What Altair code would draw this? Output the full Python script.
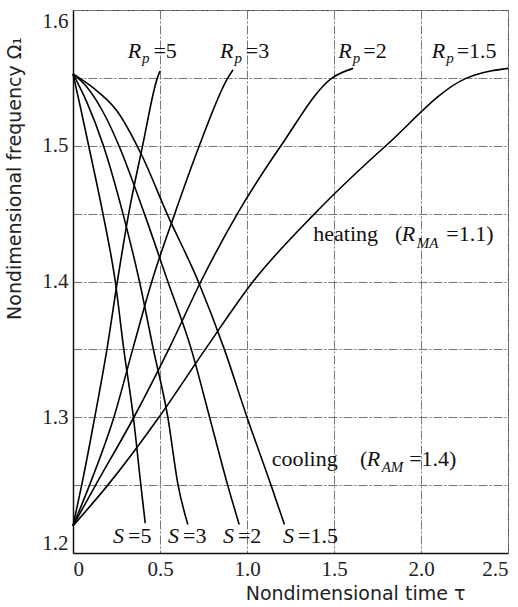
import altair as alt
import pandas as pd

# ---- curve data (tau, Omega_1) ----
rp5_t = [0, 0.05, 0.125, 0.195, 0.255, 0.32, 0.40, 0.485, 0.50]
rp5_w = [1.22, 1.25, 1.30, 1.35, 1.40, 1.45, 1.50, 1.55, 1.555]
rp3_t = [0, 0.095, 0.235, 0.343, 0.453, 0.585, 0.726, 0.89, 0.92]
rp3_w = [1.22, 1.25, 1.30, 1.35, 1.40, 1.45, 1.50, 1.55, 1.556]
rp2_t = [0, 0.13, 0.35, 0.55, 0.735, 0.945, 1.195, 1.49, 1.61]
rp2_w = [1.22, 1.25, 1.30, 1.35, 1.40, 1.45, 1.50, 1.55, 1.557]
rp15_t = [0, 0.20, 0.494, 0.76, 1.035, 1.389, 1.798, 2.265, 2.40, 2.50]
rp15_w = [1.22, 1.25, 1.30, 1.35, 1.40, 1.45, 1.50, 1.55, 1.555, 1.557]

s5_t = [0, 0.045, 0.09, 0.172, 0.243, 0.292, 0.347, 0.39, 0.415]
s5_w = [1.553, 1.527, 1.50, 1.45, 1.40, 1.35, 1.30, 1.25, 1.222]
s3_t = [0, 0.08, 0.175, 0.287, 0.382, 0.462, 0.545, 0.604, 0.66]
s3_w = [1.553, 1.532, 1.50, 1.45, 1.40, 1.35, 1.30, 1.25, 1.221]
s2_t = [0, 0.075, 0.189, 0.264, 0.41, 0.545, 0.68, 0.785, 0.889, 0.955]
s2_w = [1.553, 1.544, 1.521, 1.50, 1.45, 1.40, 1.35, 1.30, 1.25, 1.221]
s15_t = [0, 0.113, 0.251, 0.40, 0.54, 0.72, 0.87, 1.0, 1.138, 1.215]
s15_w = [1.553, 1.543, 1.526, 1.4917, 1.45, 1.40, 1.35, 1.30, 1.25, 1.221]

curves = {
    "Rp=5": (rp5_t, rp5_w), "Rp=3": (rp3_t, rp3_w),
    "Rp=2": (rp2_t, rp2_w), "Rp=1.5": (rp15_t, rp15_w),
    "S=5": (s5_t, s5_w), "S=3": (s3_t, s3_w),
    "S=2": (s2_t, s2_w), "S=1.5": (s15_t, s15_w),
}

rows = []
for name, (ts, ws) in curves.items():
    for i, (t, w) in enumerate(zip(ts, ws)):
        rows.append({"curve": name, "tau": t, "omega": w, "order": i})
df = pd.DataFrame(rows)

x_ticks = [0, 0.5, 1.0, 1.5, 2.0, 2.5]
y_grid = [1.20, 1.25, 1.30, 1.35, 1.40, 1.45, 1.50, 1.55, 1.60]

# ---- annotation pieces: (text, tau, omega, kind) ----
# kind: n = upright, i = italic, s = italic subscript
labels = [
    ("R", 0.314, 1.5644, "i"), ("p", 0.397, 1.561, "s"), ("=5", 0.462, 1.5644, "n"),
    ("R", 0.845, 1.5644, "i"), ("p", 0.928, 1.561, "s"), ("=3", 0.993, 1.5644, "n"),
    ("R", 1.525, 1.5644, "i"), ("p", 1.608, 1.561, "s"), ("=2", 1.668, 1.5644, "n"),
    ("R", 2.062, 1.5644, "i"), ("p", 2.145, 1.561, "s"), ("=1.5", 2.205, 1.5644, "n"),
    ("heating", 1.381, 1.430, "n"), ("(", 1.851, 1.430, "n"), ("R", 1.889, 1.430, "i"),
    ("MA", 1.975, 1.4245, "s"), ("=1.1)", 2.145, 1.430, "n"),
    ("cooling", 1.142, 1.2641, "n"), ("(", 1.650, 1.2641, "n"), ("R", 1.688, 1.2641, "i"),
    ("AM", 1.774, 1.2599, "s"), ("=1.4)", 1.932, 1.2641, "n"),
    ("S", 0.230, 1.2071, "i"), ("=5", 0.316, 1.2071, "n"),
    ("S", 0.546, 1.2071, "i"), ("=3", 0.632, 1.2071, "n"),
    ("S", 0.862, 1.2071, "i"), ("=2", 0.948, 1.2071, "n"),
    ("S", 1.207, 1.2071, "i"), ("=1.5", 1.293, 1.2071, "n"),
]
lab = pd.DataFrame(labels, columns=["text", "tau", "omega", "kind"])

xs = alt.Scale(domain=[0, 2.5], nice=False, zero=False)
ys = alt.Scale(domain=[1.2, 1.6], nice=False, zero=False)

x_axis = alt.Axis(
    values=x_ticks, title="Nondimensional time τ",
    labelExpr="datum.value == 0 ? '0' : format(datum.value, '.1f')",
    titleX=282, titleY=46, titleAlign="center", titleBaseline="alphabetic",
)
y_axis = alt.Axis(
    values=y_grid, title="Nondimensional frequency Ω₁",
    labelExpr="abs(round(datum.value*20)) % 2 == 0 ? format(datum.value, '.1f') : ''",
    titleX=-59, titleY=168, titleAlign="center", titleBaseline="middle", titleAngle=270,
)

lines = alt.Chart(df).mark_line(
    color="black", strokeWidth=1.6, interpolate="monotone"
).encode(
    x=alt.X("tau:Q", scale=xs, axis=x_axis),
    y=alt.Y("omega:Q", scale=ys, axis=y_axis),
    detail="curve:N",
    order="order:Q",
)

def text_layer(kind, size, style):
    return alt.Chart(lab[lab["kind"] == kind]).mark_text(
        align="left", baseline="alphabetic", font="Liberation Serif",
        fontSize=size, fontStyle=style, color="#111",
    ).encode(
        x=alt.X("tau:Q", scale=xs),
        y=alt.Y("omega:Q", scale=ys),
        text="text:N",
    )

chart = alt.layer(
    lines,
    text_layer("n", 22, "normal"),
    text_layer("i", 22, "italic"),
    text_layer("s", 15, "italic"),
).properties(
    width=435, height=543,
    autosize=alt.AutoSizeParams(type="none"),
    padding={"left": 73, "top": 10, "right": 10, "bottom": 54},
    background="white",
).configure_view(
    stroke="#444", strokeWidth=1,
).configure_axis(
    grid=True, gridColor="#777", gridDash=[9, 2, 2, 2], gridWidth=1, gridOpacity=1,
    domain=True, domainColor="#111", domainWidth=1.5,
    ticks=False, labelFont="Liberation Serif", labelFontSize=21, labelColor="#222",
    labelFlush=True, labelPadding=5,
    titleFont="DejaVu Sans", titleFontSize=19, titleFontWeight="normal", titleColor="#222",
)

chart.save("out.html", embed_options={"renderer": "svg", "actions": False})
